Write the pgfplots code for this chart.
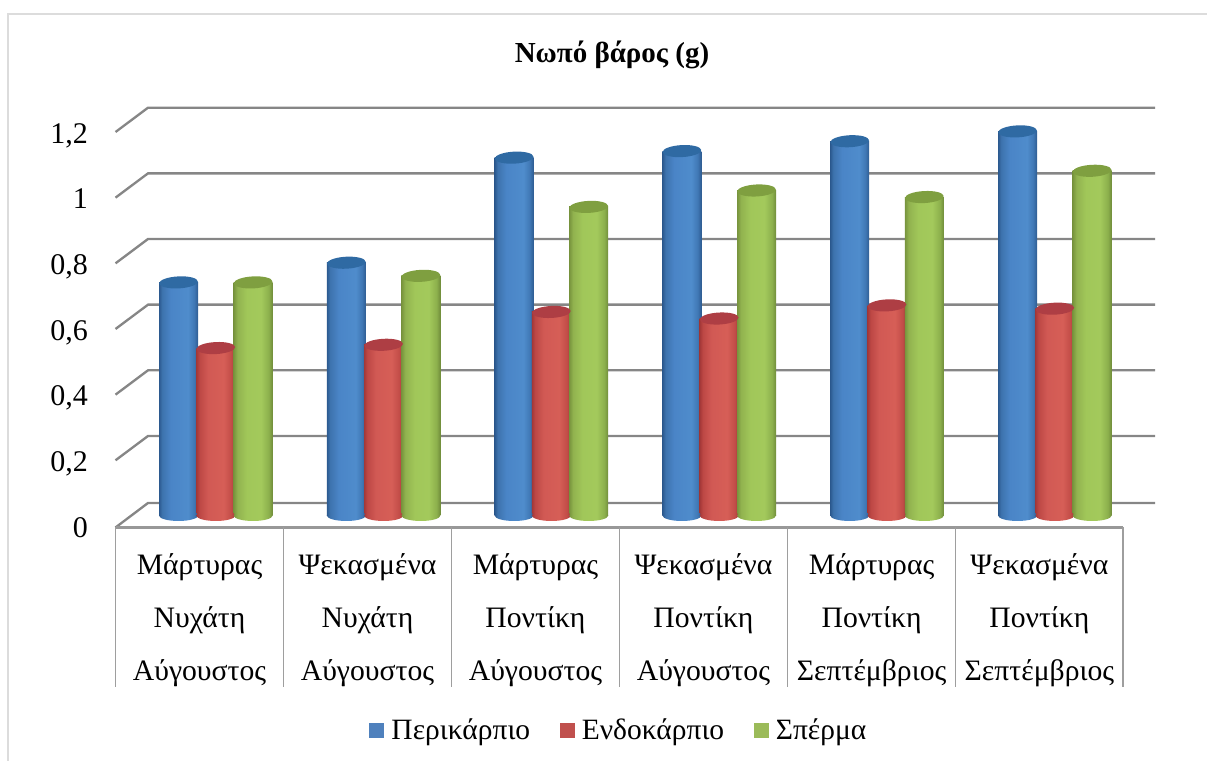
\documentclass[border=0pt]{standalone}
\usepackage{fontspec}
\setmainfont{Liberation Serif}
\usepackage{pgfplots}
\usetikzlibrary{shapes.geometric}
\pgfplotsset{compat=1.18}

% 1 px of the reference = 0.6pt
\definecolor{gridc}{HTML}{868686}
\definecolor{framec}{HTML}{DCDCDC}
\definecolor{blueT}{HTML}{2F6AA3}
\definecolor{redT}{HTML}{AE3E44}
\definecolor{greT}{HTML}{7F9F40}
\pgfdeclarehorizontalshading{cylblue}{100bp}{
  rgb(0bp)=(0.17,0.35,0.56); rgb(25bp)=(0.17,0.35,0.56); rgb(29bp)=(0.24,0.45,0.68); rgb(40bp)=(0.29,0.52,0.78);
  rgb(62bp)=(0.31,0.55,0.80); rgb(70bp)=(0.25,0.47,0.71); rgb(75bp)=(0.18,0.36,0.57); rgb(100bp)=(0.18,0.36,0.57)}
\pgfdeclarehorizontalshading{cylred}{100bp}{
  rgb(0bp)=(0.64,0.22,0.22); rgb(25bp)=(0.64,0.22,0.22); rgb(29bp)=(0.74,0.28,0.27); rgb(40bp)=(0.82,0.35,0.33);
  rgb(60bp)=(0.84,0.37,0.34); rgb(70bp)=(0.76,0.30,0.28); rgb(75bp)=(0.62,0.22,0.22); rgb(100bp)=(0.62,0.22,0.22)}
\pgfdeclarehorizontalshading{cylgre}{100bp}{
  rgb(0bp)=(0.47,0.58,0.24); rgb(25bp)=(0.47,0.58,0.24); rgb(30bp)=(0.57,0.70,0.31); rgb(42bp)=(0.63,0.78,0.35);
  rgb(60bp)=(0.64,0.79,0.36); rgb(70bp)=(0.55,0.69,0.30); rgb(75bp)=(0.44,0.55,0.23); rgb(100bp)=(0.44,0.55,0.23)}

% one cylinder: #1 category, #2 value, #3 shift, #4 colour name
\newcommand{\cyl}[4]{%
  \addplot[forget plot, draw=none, mark=none, nodes near coords={},
    every node near coord/.style={shape=ellipse, draw=none, inner sep=0pt, xshift=#3,
      minimum width=23.4pt, minimum height=6.6pt, anchor=center, shading=cyl#4}]
    coordinates {(#1,0)};
  \addplot[forget plot, ybar, bar width=23.4pt, bar shift=#3, draw=none, shading=cyl#4]
    coordinates {(#1,#2)};
  \addplot[forget plot, draw=none, mark=none, nodes near coords={},
    every node near coord/.style={shape=ellipse, draw=none, inner sep=0pt, xshift=#3, rotate=3,
      minimum width=23.2pt, minimum height=7.2pt, anchor=center, fill=#4T}]
    coordinates {(#1,#2)};
}

\begin{document}
\begin{tikzpicture}
\useasboundingbox (0,0) rectangle (724.2pt,456.6pt);
\begin{axis}[
  at={(69.6pt,140.1pt)}, anchor=south west,
  scale only axis, width=623.4pt, height=251.88pt,
  xmin=-0.5948, xmax=5.597, ymin=-0.03655, ymax=1.2422,
  clip=false, axis line style={draw=none}, major tick length=0pt,
  unbounded coords=jump,
  /pgf/number format/assume math mode=true,
  ytick={-0.0319,0.1681,0.3681,0.5681,0.7681,0.9681,1.1681},
  yticklabels={0,{0,2},{0,4},{0,6},{0,8},1,{1,2}},
  yticklabel style={font=\fontsize{18}{20}\selectfont, anchor=base east, xshift=-13.3pt, yshift=-6.7pt},
  xtick={-0.097,0.904,1.905,2.906,3.908,4.908},
  xticklabels={{Μάρτυρας\\Νυχάτη\\Αύγουστος},{Ψεκασμένα\\Νυχάτη\\Αύγουστος},{Μάρτυρας\\Ποντίκη\\Αύγουστος},{Ψεκασμένα\\Ποντίκη\\Αύγουστος},{Μάρτυρας\\Ποντίκη\\Σεπτέμβριος},{Ψεκασμένα\\Ποντίκη\\Σεπτέμβριος}},
  xticklabel style={font=\fontsize{17.8}{31.8}\selectfont, align=center, anchor=north, yshift=-12pt},
  title={\textbf{Νωπό βάρος (g)}},
  title style={at={(0.4774,1.102)}, anchor=center, font=\fontsize{17.4}{20}\selectfont},
  legend style={at={(0.4845,-0.4824)}, anchor=center, draw=none, fill=none,
    legend columns=3, font=\fontsize{17.7}{20}\selectfont,
    /tikz/every odd column/.append style={column sep=2.4pt},
    /tikz/every even column/.append style={column sep=15.6pt}},
  legend cell align=left,
  legend image code/.code={\fill[#1, draw=none] (0.6pt,-4.5pt) rectangle (9.6pt,4.5pt);},
]
% legend keys
\addlegendimage{fill={rgb,255:red,79;green,129;blue,189}}
\addlegendentry{Περικάρπιο}
\addlegendimage{fill={rgb,255:red,192;green,80;blue,77}}
\addlegendentry{Ενδοκάρπιο}
\addlegendimage{fill={rgb,255:red,155;green,187;blue,89}}
\addlegendentry{Σπέρμα}

% outer frame
\addplot[forget plot, framec, line width=1.2pt] coordinates {(-1.2384,-0.748) (-1.2384,1.5277) (5.906,1.5277)};

% side wall and back wall
\addplot[forget plot, gridc, line width=1.4pt] coordinates {
 (-0.5977,1.1681) (-0.404,1.2422) (5.597,1.2422) (nan,nan)
 (-0.5977,0.9681) (-0.404,1.0422) (5.597,1.0422) (nan,nan)
 (-0.5977,0.7681) (-0.404,0.8422) (5.597,0.8422) (nan,nan)
 (-0.5977,0.5681) (-0.404,0.6422) (5.597,0.6422) (nan,nan)
 (-0.5977,0.3681) (-0.404,0.4422) (5.597,0.4422) (nan,nan)
 (-0.5977,0.1681) (-0.404,0.2422) (5.597,0.2422) (nan,nan)
 (-0.5977,-0.03655) (-0.404,0.0381) (5.597,0.0381)
};
% floor front edge and category table
\addplot[forget plot, gridc!85, line width=1.4pt] coordinates {(-0.5977,-0.03655) (5.407,-0.03655)};
\addplot[forget plot, gridc!80, line width=0.9pt] coordinates {
 (-0.598,-0.03655) (-0.598,-0.5224) (nan,nan)
 (0.4035,-0.03655) (0.4035,-0.5224) (nan,nan)
 (1.4046,-0.03655) (1.4046,-0.5224) (nan,nan)
 (2.406,-0.03655) (2.406,-0.5224) (nan,nan)
 (3.407,-0.03655) (3.407,-0.5224) (nan,nan)
 (4.408,-0.03655) (4.408,-0.5224) (nan,nan)
 (5.407,-0.03655) (5.407,-0.5224)
};

% Περικάρπιο
\cyl{0}{0.71}{-22.38pt}{blue}
\cyl{1}{0.77}{-22.38pt}{blue}
\cyl{2}{1.09}{-22.38pt}{blue}
\cyl{3}{1.11}{-22.38pt}{blue}
\cyl{4}{1.14}{-22.38pt}{blue}
\cyl{5}{1.17}{-22.38pt}{blue}
% Ενδοκάρπιο
\cyl{0}{0.51}{0pt}{red}
\cyl{1}{0.52}{0pt}{red}
\cyl{2}{0.62}{0pt}{red}
\cyl{3}{0.60}{0pt}{red}
\cyl{4}{0.64}{0pt}{red}
\cyl{5}{0.63}{0pt}{red}
% Σπέρμα
\cyl{0}{0.71}{22.38pt}{gre}
\cyl{1}{0.73}{22.38pt}{gre}
\cyl{2}{0.94}{22.38pt}{gre}
\cyl{3}{0.99}{22.38pt}{gre}
\cyl{4}{0.97}{22.38pt}{gre}
\cyl{5}{1.05}{22.38pt}{gre}
\end{axis}
\end{tikzpicture}
\end{document}
